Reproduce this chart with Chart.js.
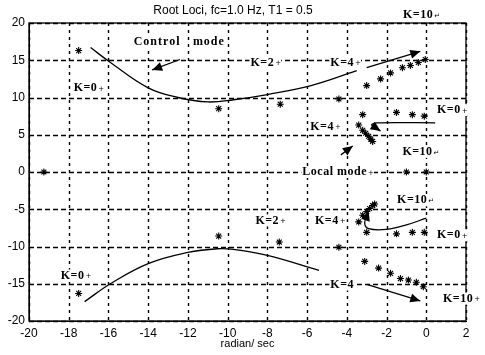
<!DOCTYPE html>
<html lang="en">
<head>
<meta charset="UTF-8">
<title>Root Loci</title>
<script src="https://cdn.jsdelivr.net/npm/chart.js"></script>
<style>
  html, body { margin: 0; padding: 0; background: #fff; }
  #wrap { width: 485px; height: 355px; }
</style>
</head>
<body>
<div id="wrap"><canvas id="rootLoci"></canvas></div>
<script>
// tick values
const xTickVals = [-20, -18, -16, -14, -12, -10, -8, -6, -4, -2, 0, 2];
const yTickVals = [-20, -15, -10, -5, 0, 5, 10, 15, 20];

// root markers [real, imag]
const ctrlUpperRoots = [[-17.5, 16.3], [-10.45, 8.5], [-7.35, 9.1], [-4.4, 9.8], [-3.0, 11.6], [-2.3, 12.5], [-1.8, 13.3], [-1.2, 14.0], [-0.8, 14.3], [-0.4, 14.7], [-0.05, 15.1]];
const ctrlLowerRoots = [[-17.5, -16.3], [-10.45, -8.6], [-7.4, -9.4], [-4.4, -10.1], [-3.1, -12.0], [-2.4, -12.9], [-1.8, -13.6], [-1.3, -14.3], [-0.9, -14.5], [-0.5, -14.8], [-0.15, -15.4]];
const localUpperRoots = [[-3.2, 7.7], [-1.5, 8.0], [-0.7, 7.7], [-0.1, 7.5], [-3.4, 6.3], [-3.2, 5.6], [-3.05, 5.2], [-2.9, 4.8], [-2.8, 4.4], [-2.7, 4.1]];
const localLowerRoots = [[-3.0, -8.1], [-1.5, -8.3], [-0.7, -8.1], [-0.1, -8.1], [-3.4, -6.7], [-3.2, -5.8], [-3.0, -5.3], [-2.85, -4.9], [-2.7, -4.5], [-2.6, -4.3]];
const realRoots = [[-19.25, 0], [-1.0, 0], [0, 0]];

// hand-drawn loci and arrows
const ctrlUpperCurve = [[-16.9, 16.7], [-15.9, 14.7], [-14, 11.3], [-12.5, 10.0], [-11.0, 9.4], [-9.7, 9.7], [-8, 10.4], [-5.8, 11.6], [-3.5, 13.6]];
const ctrlLowerCurve = [[-17.2, -17.4], [-15.9, -15.0], [-14, -12.3], [-12, -10.8], [-10.5, -10.3], [-9.7, -10.4], [-8, -11.2], [-5.4, -13.2]];
const upperArrow = [[-3.0, 14.0], [-0.3, 16.2]];
const lowerArrow = [[-3.0, -15.1], [-0.3, -17.3]];
const ctrlModeArrow = [[-12.4, 15.1], [-13.8, 13.7]];
const localModeArrow = [[-4.3, 2.3], [-3.7, 3.5]];
const localUpperCurve = [[0.45, 6.6], [-2.5, 6.6], [-2.75, 6.3], [-2.3, 5.5]];
const localLowerCurve = [[0.0, -6.2], [-1.0, -7.1], [-2.0, -7.7], [-2.9, -7.6], [-3.1, -6.8], [-2.9, -5.2]];

// annotations [text, suffix, real, imag]
const notes = [
    ['Control', '', -14.73, 17.4],
    ['mode', '', -11.75, 17.4],
    ['K=0', '+', -17.75, 11.3],
    ['K=2', '+', -8.85, 14.7],
    ['K=4', '+', -4.83, 14.7],
    ['K=10', '\u21B5', -1.17, 21.1],
    ['K=0', '+', 0.54, 8.3],
    ['K=4', '+', -5.84, 6.1],
    ['K=10', '\u21B5', -1.2, 2.7],
    ['Local mode', '+', -6.24, 0],
    ['K=10', '\u21B5', -1.47, -3.8],
    ['K=2', '+', -8.6, -6.5],
    ['K=4', '+', -5.6, -6.5],
    ['K=0', '+', 0.54, -8.5],
    ['K=0', '+', -18.4, -13.9],
    ['K=4', '', -4.83, -15.1],
    ['K=10', '+', 0.84, -17.0]
];

const toXY = arr => arr.map(p => ({ x: p[0], y: p[1] }));

function markers(arr) {
    return {
        data: toXY(arr), showLine: false, pointStyle: 'star', pointRadius: 3.5,
        borderColor: '#000', backgroundColor: '#000', borderWidth: 1.1
    };
}
function curve(arr, arrow, tension) {
    return {
        data: toXY(arr), showLine: true, pointRadius: 0, borderColor: '#000',
        borderWidth: 1.3, tension: tension || 0, arrow: arrow
    };
}

// dashed grid drawn from the scale ticks
const dashedGrid = {
    id: 'dashedGrid',
    beforeDatasetsDraw(chart) {
        const ctx = chart.ctx, a = chart.chartArea;
        ctx.save();
        ctx.strokeStyle = '#000';
        ctx.lineWidth = 1.4;
        ctx.setLineDash([3, 4]);
        chart.scales.x.ticks.forEach(t => {
            const px = Math.round(chart.scales.x.getPixelForValue(t.value)) + 0.5;
            ctx.beginPath(); ctx.moveTo(px, a.top); ctx.lineTo(px, a.bottom); ctx.stroke();
        });
        ctx.setLineDash([5, 3]);
        chart.scales.y.ticks.forEach(t => {
            const py = Math.round(chart.scales.y.getPixelForValue(t.value)) + 0.5;
            ctx.beginPath(); ctx.moveTo(a.left, py); ctx.lineTo(a.right, py); ctx.stroke();
        });
        ctx.restore();
    }
};

// frame, arrowheads and text notes
const extras = {
    id: 'extras',
    afterDatasetsDraw(chart) {
        const ctx = chart.ctx, a = chart.chartArea;
        const xs = chart.scales.x, ys = chart.scales.y;
        ctx.save();
        ctx.strokeStyle = '#000';
        ctx.lineWidth = 1.3;
        ctx.strokeRect(a.left, a.top, a.right - a.left, a.bottom - a.top);

        chart.data.datasets.forEach((ds, i) => {
            if (!ds.arrow) return;
            const pts = chart.getDatasetMeta(i).data;
            const p1 = pts[pts.length - 2], p2 = pts[pts.length - 1];
            const ang = Math.atan2(p2.y - p1.y, p2.x - p1.x);
            const len = 10, w = 4.5;
            ctx.fillStyle = '#000';
            ctx.beginPath();
            ctx.moveTo(p2.x, p2.y);
            ctx.lineTo(p2.x - len * Math.cos(ang) + w * Math.sin(ang), p2.y - len * Math.sin(ang) - w * Math.cos(ang));
            ctx.lineTo(p2.x - len * Math.cos(ang) - w * Math.sin(ang), p2.y - len * Math.sin(ang) + w * Math.cos(ang));
            ctx.closePath();
            ctx.fill();
        });

        ctx.textBaseline = 'middle';
        ctx.textAlign = 'left';
        notes.forEach(n => {
            const px = xs.getPixelForValue(n[2]), py = ys.getPixelForValue(n[3]);
            const big = n[0] === 'Control' || n[0] === 'mode';
            ctx.font = 'bold 12px "Liberation Serif"';
            ctx.letterSpacing = big ? '1px' : '0.5px';
            const tw = ctx.measureText(n[0]).width;
            // white knock-out behind labels so grid dashes don't run through them
            ctx.fillStyle = '#fff';
            ctx.fillRect(px - 1, py - 6, tw + (n[1] ? 8 : 2), 12);
            ctx.fillStyle = '#000';
            ctx.fillText(n[0], px, py);
            if (n[1]) {
                ctx.letterSpacing = '0px';
                ctx.font = '7px "DejaVu Sans"';
                ctx.fillText(n[1], px + tw + 1, py + 1);
            }
        });
        ctx.restore();
    }
};

new Chart(document.getElementById('rootLoci'), {
    type: 'scatter',
    data: {
        datasets: [
            markers(ctrlUpperRoots),
            markers(ctrlLowerRoots),
            markers(localUpperRoots),
            markers(localLowerRoots),
            markers(realRoots),
            curve(ctrlUpperCurve, false, 0.4),
            curve(ctrlLowerCurve, false, 0.4),
            curve(upperArrow, true),
            curve(lowerArrow, true),
            curve(ctrlModeArrow, true),
            curve(localModeArrow, true),
            curve(localUpperCurve, true, 0.3),
            curve(localLowerCurve, true, 0.4)
        ]
    },
    plugins: [dashedGrid, extras],
    options: {
        responsive: true,
        maintainAspectRatio: false,
        animation: false,
        layout: { padding: { left: 0, right: 19, top: 0, bottom: 0 } },
        plugins: {
            legend: { display: false },
            tooltip: { enabled: false },
            title: {
                display: true,
                text: 'Root Loci, fc=1.0 Hz, T1 = 0.5',
                color: '#000',
                font: { family: '"Liberation Sans"', size: 12, weight: 'normal' },
                padding: { top: 3, bottom: 5.6 }
            }
        },
        scales: {
            x: {
                type: 'linear', min: -20, max: 2,
                afterBuildTicks: s => { s.ticks = xTickVals.map(v => ({ value: v })); },
                afterFit: s => { s.height = 34; },
                ticks: { color: '#000', padding: 5, font: { family: '"Liberation Sans"', size: 12 } },
                grid: { display: false, drawTicks: false },
                border: { display: true, color: '#000' },
                title: {
                    display: true, text: 'radian/ sec', color: '#000',
                    font: { family: '"Liberation Sans"', size: 11 },
                    padding: { top: 0, bottom: 4 }
                }
            },
            y: {
                type: 'linear', min: -20, max: 20,
                afterBuildTicks: s => { s.ticks = yTickVals.map(v => ({ value: v })); },
                afterFit: s => { s.width = 29; },
                ticks: { color: '#000', padding: 4, font: { family: '"Liberation Sans"', size: 12 } },
                grid: { display: false, drawTicks: false },
                border: { display: true, color: '#000' }
            }
        }
    }
});
</script>
</body>
</html>
